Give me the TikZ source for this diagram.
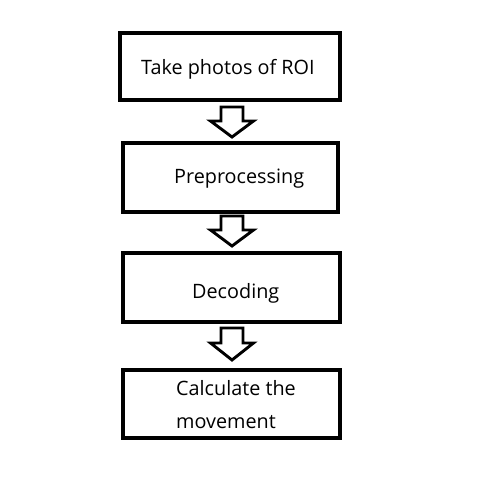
\documentclass[tikz,border=0pt]{standalone}
\usepackage{fontspec}
\setmainfont{Open Sans}
\begin{document}
\begin{tikzpicture}[x=1pt,y=-1pt,
  boxnode/.style={draw=black,line width=3.2pt,inner sep=0pt},
  labeltext/.style={font=\fontsize{19.8}{33}\selectfont,inner sep=0pt,anchor=base west},
  blockarrow/.style={draw=black,line width=2.9pt,fill=white,line join=miter}]
\useasboundingbox (0,0) rectangle (503,484);
% boxes
\node[boxnode,minimum width=220pt,minimum height=67pt] (b1) at (230,66.5) {};
\node[boxnode,minimum width=215pt,minimum height=69pt] (b2) at (230.5,177.5) {};
\node[boxnode,minimum width=217pt,minimum height=69pt] (b3) at (231.5,287.5) {};
\node[boxnode,minimum width=217pt,minimum height=68pt] (b4) at (231.5,404) {};
% texts
\node[labeltext] (t1) at (141,75) {Take photos of ROI};
\node[labeltext] (t2) at (174,183) {Preprocessing};
\node[labeltext] (t3) at (192,298) {Decoding};
\node[labeltext] (t4a) at (176,395) {Calculate the};
\node[labeltext] (t4b) at (176,428) {movement};
% block arrows
\coordinate (a1) at (232,107);
\coordinate (a2) at (232,216);
\coordinate (a3) at (232,328);
\draw[blockarrow] (a1) ++(-11,0) -- ++(0,14) -- ++(-10.5,0) -- ++(21.5,16) -- ++(21.5,-16) -- ++(-10.5,0) -- ++(0,-14) -- cycle;
\draw[blockarrow] (a2) ++(-11,0) -- ++(0,14) -- ++(-10.5,0) -- ++(21.5,16) -- ++(21.5,-16) -- ++(-10.5,0) -- ++(0,-14) -- cycle;
\draw[blockarrow] (a3) ++(-11,0) -- ++(0,15) -- ++(-10.5,0) -- ++(21.5,17) -- ++(21.5,-17) -- ++(-10.5,0) -- ++(0,-15) -- cycle;
\end{tikzpicture}
\end{document}
